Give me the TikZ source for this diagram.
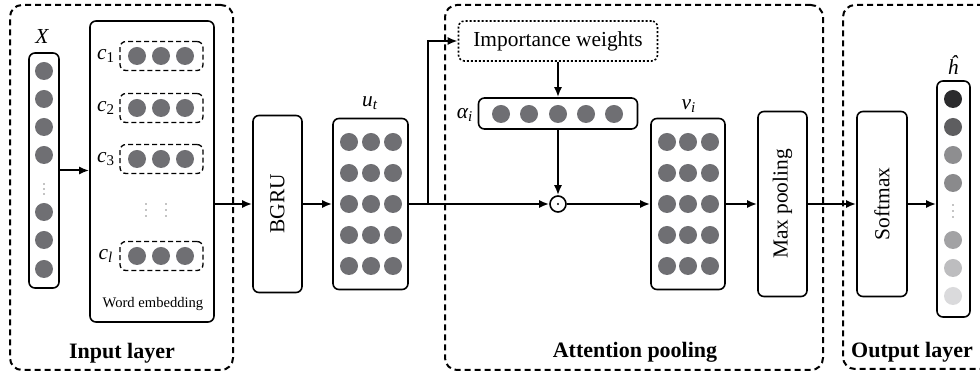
\documentclass[tikz,border=0pt]{standalone}
\usepackage{fontspec}
\setmainfont{Liberation Serif}
\usepackage{xcolor}
\usetikzlibrary{arrows.meta,positioning}
\definecolor{dotgray}{HTML}{6F6F73}

\begin{document}
\begin{tikzpicture}[x=0.5pt, y=-0.5pt,
    font=\fontsize{10.7}{12}\selectfont,
    layer/.style={draw, line width=1pt, dash pattern=on 3pt off 2pt, rounded corners=6pt, inner sep=0pt},
    blk/.style={draw, line width=0.8pt, rounded corners=3pt, inner sep=0pt},
    cbox/.style={draw, line width=0.65pt, dash pattern=on 2.5pt off 1.5pt, rounded corners=3pt, minimum width=41.5pt, minimum height=14.5pt, inner sep=0pt},
    unit/.style={circle, fill=dotgray, minimum size=9pt, inner sep=0pt},
    arrow/.style={-{Latex[length=5pt, width=4pt]}, line width=1pt},
    lbl/.style={font=\fontsize{10.7}{12}\selectfont\itshape, inner sep=0pt},
    title/.style={font=\fontsize{11}{12}\selectfont\bfseries, anchor=base, inner sep=0pt}
]
\useasboundingbox (0,0) rectangle (980,378);
\clip (0,0) rectangle (980,378);

\node[layer, minimum width=111.5pt, minimum height=182.5pt] (inlayer) at (121.5,187.5) {};
\node[layer, minimum width=189pt, minimum height=182.5pt] (attlayer) at (634,187.5) {};
\node[layer, minimum width=76pt, minimum height=182pt] (outlayer) at (919,187) {};
\node[title] (intitle) at (122,359) {Input layer};
\node[title] (atttitle) at (635,358) {Attention pooling};
\node[title] (outtitle) at (912,358) {Output layer};

\node[blk, minimum width=15pt, minimum height=117.5pt] (xcol) at (44,170.5) {};
\node[lbl] (xlbl) at (42,37) {X};
\foreach \y [count=\i] in {71,99,127,155,212,240,269}
    \node[unit] (x\i) at (44,\y) {};
\foreach \y in {184,189,194}
    \fill (44,\y) circle (0.35pt);

\node[blk, minimum width=62pt, minimum height=150.5pt] (emb) at (152,171.5) {};
\foreach \y/\n/\s in {56/1/1, 108/2/2, 159/3/3, 256/l/\textit{l}} {
    \node[cbox] (c\n) at (161.5,\y) {};
    \foreach \x in {137,161,185}
        \node[unit] (c\n-\x) at (\x,\y) {};
    \node[lbl] (c\n lbl) at (106,\y) {c\textsubscript{\upshape\s}};
}
\foreach \x in {146,166}
    \foreach \y in {204,210,216}
        \fill (\x,\y) circle (0.35pt);
\node[font=\fontsize{7.3}{8}\selectfont] (emblbl) at (153,304) {Word embedding};

\node[blk, minimum width=24.5pt, minimum height=88.5pt] (bgru) at (277.5,204) {};
\node[rotate=90] (bgrulbl) at (bgru) {BGRU};

\node[blk, minimum width=37.5pt, minimum height=85.5pt] (ut) at (370.5,204) {};
\node[lbl] (utlbl) at (370,103) {u\textsubscript{t}};
\foreach \x in {349,371,393}
    \foreach \y in {143,174,205,236,267}
        \node[unit] (u\x-\y) at (\x,\y-1) {};

\node[blk, dash pattern=on 1pt off 1pt, minimum width=99.5pt, minimum height=20pt] (imp) at (558,41) {Importance weights};

\node[blk, minimum width=79.5pt, minimum height=15.5pt] (alpha) at (558,113.5) {};
\node[lbl] (alphalbl) at (465,115) {α\textsubscript{i}};
\foreach \x in {501,529,558,586,614}
    \node[unit] (a\x) at (\x,114) {};

\node[circle, draw, line width=0.8pt, minimum size=8pt, inner sep=0pt] (odot) at (558,204) {};
\fill (odot) circle (0.6pt);

\node[blk, minimum width=37pt, minimum height=85.5pt] (vi) at (688,204) {};
\node[lbl] (vilbl) at (689,106) {v\textsubscript{i}};
\foreach \x in {667,688,710}
    \foreach \y in {143,174,205,236,267}
        \node[unit] (v\x-\y) at (\x,\y-1) {};

\node[blk, minimum width=24.5pt, minimum height=92.5pt] (maxpool) at (782.5,204) {};
\node[rotate=90] (maxpoollbl) at (maxpool) {Max pooling};

\node[blk, minimum width=25pt, minimum height=92.5pt] (softmax) at (882,204) {};
\node[rotate=90] (softmaxlbl) at (softmax) {Softmax};

\node[blk, minimum width=16.5pt, minimum height=118pt] (hhat) at (953.5,199) {};
\node[lbl] (hhatlbl) at (953,65) {ĥ};
\foreach \y/\c in {99/2B2B2D, 127/5E5E60, 155/8E8E90, 183/8A8A8C, 240/A2A2A4, 268/BDBDBF, 296/DADADC} {
    \definecolor{hc}{HTML}{\c}
    \node[unit, fill=hc] (h\y) at (953,\y) {};
}
\foreach \y in {205,211,217}
    \fill (953,\y) circle (0.35pt);

\draw[arrow] (xcol.east) -- (xcol.east -| emb.west);
\draw[arrow] (bgru.west -| emb.east) -- (bgru.west);
\draw[arrow] (bgru) -- (ut);
\draw[arrow] (ut) -- (odot);
\coordinate (split) at (428,204);
\draw[arrow] (split) |- (imp.west);
\draw[arrow] (imp) -- (alpha);
\draw[arrow] (alpha) -- (odot);
\draw[arrow] (odot) -- (vi);
\draw[arrow] (vi) -- (maxpool);
\draw[arrow] (maxpool) -- (softmax);
\draw[arrow] (softmax.east) -- (softmax.east -| hhat.west);
\end{tikzpicture}
\end{document}
